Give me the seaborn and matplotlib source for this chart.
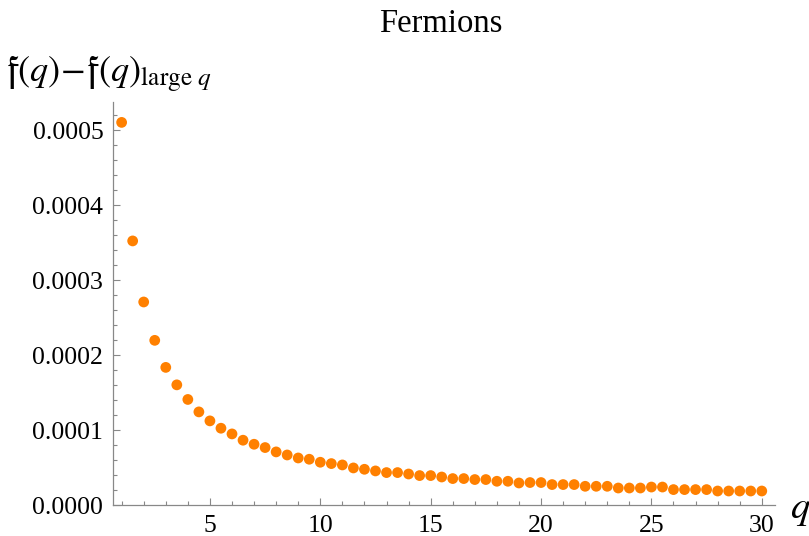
import numpy as np
import pandas as pd
import seaborn as sns
import matplotlib
matplotlib.use("Agg")
import matplotlib.pyplot as plt
from matplotlib.ticker import MultipleLocator, FuncFormatter

# data (values in units of 1e-4)
q_values = [1.0, 1.5, 2.0, 2.5, 3.0, 3.5, 4.0, 4.5, 5.0, 5.5,
            6.0, 6.5, 7.0, 7.5, 8.0, 8.5, 9.0, 9.5, 10.0, 10.5,
            11.0, 11.5, 12.0, 12.5, 13.0, 13.5, 14.0, 14.5, 15.0, 15.5,
            16.0, 16.5, 17.0, 17.5, 18.0, 18.5, 19.0, 19.5, 20.0, 20.5,
            21.0, 21.5, 22.0, 22.5, 23.0, 23.5, 24.0, 24.5, 25.0, 25.5,
            26.0, 26.5, 27.0, 27.5, 28.0, 28.5, 29.0, 29.5, 30.0]
diff_e4 = [5.107, 3.525, 2.710, 2.198, 1.837, 1.604, 1.409, 1.243, 1.123, 1.025,
           0.949, 0.865, 0.811, 0.767, 0.709, 0.668, 0.628, 0.611, 0.571, 0.553,
           0.535, 0.495, 0.477, 0.455, 0.433, 0.433, 0.414, 0.393, 0.393, 0.374,
           0.353, 0.353, 0.340, 0.340, 0.317, 0.317, 0.294, 0.300, 0.300, 0.273,
           0.273, 0.273, 0.250, 0.250, 0.250, 0.227, 0.227, 0.227, 0.240, 0.240,
           0.206, 0.206, 0.206, 0.206, 0.187, 0.187, 0.187, 0.187, 0.187]

df = pd.DataFrame({'q': q_values, 'diff': np.array(diff_e4) * 1e-4})

sns.set_theme(style='white')
plt.rcParams['font.family'] = ['Liberation Serif', 'DejaVu Serif']
plt.rcParams['mathtext.fontset'] = 'stix'

fig = plt.figure(figsize=(8.09, 5.36), dpi=100)
ax = fig.add_axes([0.1397, 0.0578, 0.8183, 0.752])

sns.scatterplot(data=df, x='q', y='diff', ax=ax, color='#ff8000',
                s=60, edgecolor='none', linewidth=0)

ax.set_xlim(0.61, 30.6)
ax.set_ylim(0, 0.000538)

ax.xaxis.set_major_locator(MultipleLocator(5))
ax.xaxis.set_minor_locator(MultipleLocator(1))
ax.yaxis.set_major_locator(MultipleLocator(0.0001))
ax.yaxis.set_minor_locator(MultipleLocator(0.00002))
ax.yaxis.set_major_formatter(FuncFormatter(lambda v, p: f'{v:.4f}'))
ax.set_xticks([5, 10, 15, 20, 25, 30])

for side in ['top', 'right']:
    ax.spines[side].set_visible(False)
for side in ['left', 'bottom']:
    ax.spines[side].set_color('#888888')
    ax.spines[side].set_linewidth(0.9)

ax.tick_params(which='both', direction='in', color='#888888', width=0.8,
               labelsize=18.5, labelcolor='black', left=True, bottom=True)
ax.tick_params(which='major', length=5, pad=7)
ax.tick_params(which='minor', length=3)

ax.set_xlabel('')
ax.set_ylabel('')

fig.text(0.545, 0.955, 'Fermions', fontsize=23.5, ha='center', va='center',
         color='black')
fig.text(0.008, 0.86,
         r'$\mathfrak{f}(q)\!-\!\mathfrak{f}(q)_{\mathrm{large}\ q}$',
         fontsize=26, ha='left', va='center', color='black')
fig.text(0.989, 0.05, r'$q$', fontsize=28, ha='center', va='center',
         color='black')

fig.savefig('out.png', dpi=100)
